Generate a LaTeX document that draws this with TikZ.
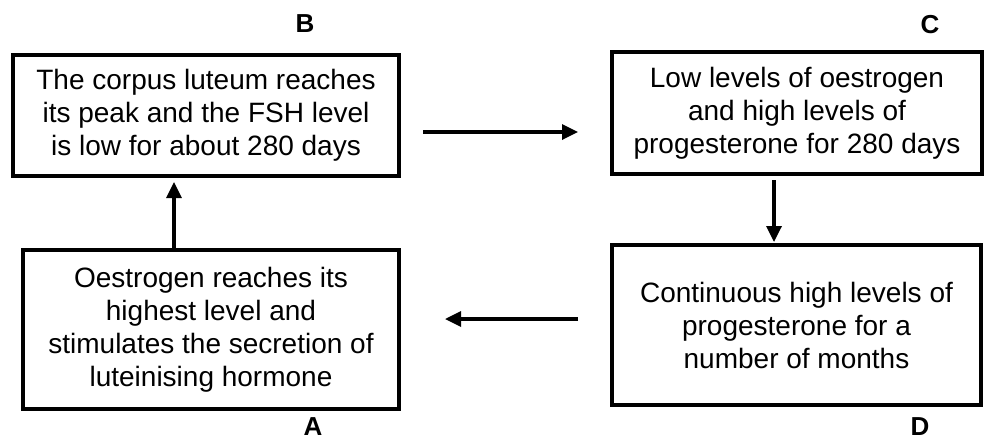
\documentclass[tikz,border=0pt]{standalone}
\usepackage{fontspec}
\setmainfont{Liberation Sans}
\usetikzlibrary{arrows.meta}
\begin{document}
\begin{tikzpicture}[x=1pt,y=-1pt,
  box/.style={draw=black, line width=4pt, rectangle, inner sep=0pt, align=center,
    font=\fontsize{28}{33}\selectfont},
  lbl/.style={font=\fontsize{26}{30}\selectfont\bfseries, inner sep=0pt},
  arr/.style={line width=3.3pt, -{Triangle[length=16pt,width=15pt]}}]
\useasboundingbox (0,0) rectangle (984,440);
\node[box, minimum width=386pt, minimum height=121pt] (B) at (206,115.5)
  {The corpus luteum reaches\\its peak and the FSH level\\is low for about 280 days};
\node[box, minimum width=370pt, minimum height=122pt] (C) at (797,113)
  {Low levels of oestrogen\\and high levels of\\progesterone for 280 days};
\node[box, minimum width=376pt, minimum height=159pt] (A) at (211,329.5)
  {Oestrogen reaches its\\highest level and\\stimulates the secretion of\\luteinising hormone};
\node[box, minimum width=369pt, minimum height=160pt] (D) at (796.5,325)
  {Continuous high levels of\\progesterone for a\\number of months};
\node[lbl] (lB) at (305,24) {B};
\node[lbl] (lC) at (930,25) {C};
\node[lbl] (lA) at (313,427) {A};
\node[lbl] (lD) at (920,427) {D};
\coordinate (b1) at ([yshift=-16.5pt]B.east);
\draw[arr, shorten <=22pt, shorten >=32pt] (b1) -- (b1 -| C.west);
\coordinate (c1) at ([xshift=-23pt]C.south);
\draw[arr, shorten <=4pt, shorten >=1pt] (c1) -- (c1 |- D.north);
\coordinate (d1) at ([yshift=6pt]D.west);
\draw[arr, shorten <=32pt, shorten >=44pt] (d1) -- (d1 -| A.east);
\coordinate (a1) at ([xshift=-37pt]A.north);
\draw[arr, shorten <=0pt, shorten >=4pt] (a1) -- (a1 |- B.south);
\end{tikzpicture}
\end{document}
